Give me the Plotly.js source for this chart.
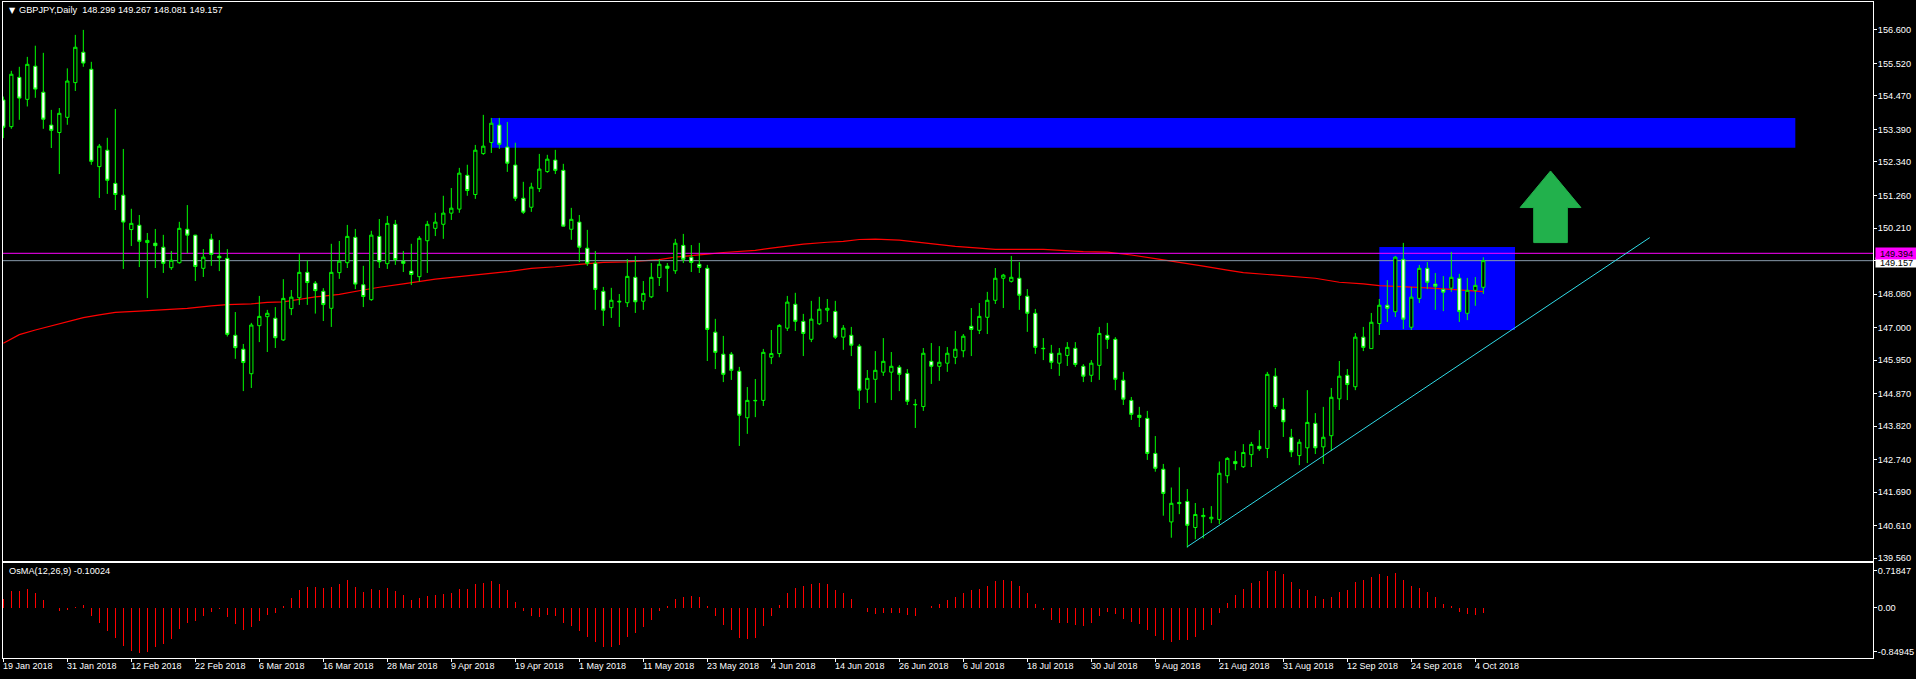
<!DOCTYPE html>
<html><head><meta charset="utf-8">
<script src="https://cdn.plot.ly/plotly-3.0.1.min.js"></script>
<style>html,body{margin:0;padding:0;background:#000;overflow:hidden}</style>
</head><body><div id="chart" style="width:1916px;height:679px"></div>
<script>
const openPrice=[154.34,153.48,155.07,154.36,155.43,154.59,153.53,153.29,153.78,154.90,155.88,155.33,152.19,152.72,151.65,151.27,150.16,150.30,149.74,149.72,
149.59,148.93,149.09,150.17,149.98,148.91,149.85,149.30,149.23,146.75,146.30,145.51,147.06,147.35,147.30,146.60,147.61,147.96,148.78,148.43,
148.17,147.62,148.77,149.09,149.91,148.38,147.90,149.94,149.06,150.33,149.14,148.82,148.64,149.80,150.20,150.33,150.69,150.82,151.91,151.29,
152.61,152.97,153.53,152.82,152.24,151.17,150.88,151.48,152.03,152.40,152.07,150.17,150.40,149.56,149.07,148.17,147.64,147.85,147.80,148.62,
147.85,147.99,148.61,148.98,148.83,149.65,149.27,149.04,148.91,146.85,146.14,146.14,145.59,144.09,144.65,144.65,146.04,146.16,146.98,147.75,
147.20,146.62,147.12,147.56,147.52,146.69,146.75,146.40,145.01,145.33,145.56,145.56,145.72,145.52,144.52,144.45,145.91,145.75,145.85,146.04,
146.25,147.04,146.91,147.33,147.88,148.59,148.49,148.59,148.01,147.46,146.33,146.17,145.85,146.10,146.33,145.75,145.46,145.78,146.75,146.62,
145.30,144.65,144.17,144.07,142.94,142.43,140.73,141.36,141.39,140.55,140.90,140.83,140.81,142.22,142.68,142.51,142.90,143.17,143.10,145.43,
144.36,143.46,142.87,143.12,143.91,143.15,143.51,144.70,145.46,145.09,146.69,146.32,147.13,147.72,147.51,149.20,147.01,147.94,148.91,148.40,
148.23,148.27,148.59,147.46,148.20,148.299];
const highPrice=[154.45,155.28,155.41,155.73,156.09,155.86,154.02,154.08,155.36,156.44,156.60,155.57,152.92,153.12,154.05,152.76,150.83,150.63,150.05,150.18,
149.99,149.47,150.41,150.95,149.99,149.53,150.02,149.82,149.53,147.50,146.47,147.15,148.02,147.57,147.66,148.56,148.21,149.37,149.16,148.50,
148.27,149.70,149.79,150.31,150.18,148.99,150.12,150.50,150.60,150.47,149.47,149.70,149.95,150.44,150.70,151.25,151.50,152.15,152.25,152.89,
153.86,153.76,153.76,153.63,152.96,151.70,151.67,152.60,152.57,152.73,152.28,150.86,150.63,150.15,149.47,148.31,148.28,148.08,149.21,149.31,
148.50,149.08,149.21,149.08,149.86,150.02,149.66,149.73,149.02,147.28,146.73,146.21,145.73,145.08,145.34,146.31,146.92,147.11,148.02,148.12,
147.44,147.86,147.99,147.92,147.86,147.08,147.02,146.47,145.63,146.24,146.66,146.21,145.79,145.66,144.69,146.34,146.50,146.40,146.37,146.89,
146.79,147.63,147.79,148.15,148.92,148.73,149.31,149.11,148.24,147.60,146.66,146.44,146.34,146.53,146.53,145.82,145.95,147.02,147.15,146.69,
145.57,144.76,144.44,144.31,143.50,142.60,141.84,142.49,141.79,141.34,141.18,141.24,142.68,142.82,143.02,143.24,143.31,143.69,145.57,145.69,
144.73,143.73,143.40,144.98,144.24,144.44,145.05,145.92,145.66,146.82,147.02,147.47,147.92,148.53,149.31,149.73,148.31,149.02,149.11,148.76,
148.66,149.44,148.73,148.60,148.63,149.267];
const lowPrice=[153.11,153.41,153.70,154.13,154.41,153.41,152.79,151.95,153.54,154.63,155.41,152.25,151.18,151.31,150.79,148.89,149.63,148.95,147.95,148.92,
148.76,148.86,149.06,149.39,148.50,148.63,148.99,148.82,146.71,145.99,144.95,145.05,146.53,146.21,146.34,146.57,147.40,147.73,147.73,147.45,
147.21,147.02,148.57,148.92,148.24,147.66,147.86,148.92,148.89,149.02,148.79,148.37,148.48,148.76,149.95,149.86,150.47,150.70,151.25,151.15,
152.57,152.63,152.76,152.02,151.08,150.66,150.73,151.37,151.99,151.95,150.27,149.83,149.11,148.99,147.57,147.05,147.31,147.02,147.66,147.47,
147.57,147.95,148.34,148.15,148.73,149.08,148.79,148.76,145.92,145.66,145.24,145.31,143.18,143.57,144.11,144.47,145.82,146.04,146.89,146.89,
146.08,146.53,147.08,147.18,146.63,146.28,146.08,144.37,144.57,144.57,145.44,144.66,144.95,144.50,143.76,144.31,145.18,145.28,145.57,145.82,
146.04,146.08,146.79,146.79,147.76,147.63,148.45,147.57,146.86,146.15,145.95,145.66,145.44,145.76,145.73,145.24,145.24,145.31,146.31,144.98,
144.50,144.02,143.79,142.73,142.35,140.93,140.22,140.98,139.90,140.17,140.20,140.69,140.66,141.98,142.40,142.47,142.50,143.02,142.79,144.37,
143.47,142.82,142.56,142.63,142.92,142.60,143.02,144.34,144.66,144.98,146.24,146.32,146.76,147.18,147.34,146.95,146.92,147.79,148.24,147.57,
147.53,148.15,147.18,147.24,147.70,148.081];
const closePrice=[153.46,155.17,154.40,155.49,154.69,153.72,153.36,153.91,154.95,156.04,155.53,152.36,152.85,151.75,151.29,150.40,150.36,149.78,149.81,149.64,
149.07,149.17,150.20,149.98,148.97,149.27,149.36,149.25,146.78,146.35,145.87,147.08,147.36,147.46,146.67,147.94,147.98,148.78,148.45,148.19,
147.74,148.78,149.14,149.94,148.40,148.00,149.98,149.12,150.36,149.19,149.07,148.71,149.88,150.33,150.40,150.69,150.85,151.98,151.42,152.72,
152.85,153.59,152.91,152.30,151.17,150.72,151.53,152.11,152.43,152.07,150.27,150.49,149.59,149.07,148.23,147.56,147.88,147.83,148.65,147.83,
148.10,148.62,149.04,148.91,149.72,149.20,149.10,148.94,146.94,146.20,145.49,145.62,144.17,144.65,144.64,146.20,146.16,147.07,147.82,147.20,
146.81,147.27,147.59,147.62,146.69,146.98,146.43,144.98,145.36,145.62,145.91,145.75,145.49,144.62,144.51,146.17,145.75,145.88,146.17,146.30,
146.72,146.94,147.36,147.88,148.59,148.69,148.62,148.04,147.46,146.36,146.32,145.88,146.17,146.36,145.81,145.43,145.85,146.81,146.62,145.33,
144.69,144.20,144.10,142.94,142.46,141.65,141.33,141.32,140.62,140.97,140.94,140.88,142.30,142.78,142.61,142.97,143.23,143.09,145.49,144.45,
143.96,142.99,143.30,143.94,143.12,143.46,144.75,145.43,145.16,146.69,146.36,147.17,147.72,147.62,149.27,147.27,147.98,148.91,148.46,148.33,
148.14,148.62,147.52,148.20,148.36,149.157];
const osma=[0.16,0.32,0.32,0.36,0.29,0.14,0,-0.07,-0.05,0.02,0.06,-0.17,-0.30,-0.45,-0.59,-0.74,-0.83,-0.88,-0.86,-0.77,
-0.71,-0.61,-0.41,-0.29,-0.25,-0.17,-0.09,-0.03,-0.19,-0.32,-0.44,-0.38,-0.26,-0.15,-0.11,0.03,0.18,0.34,0.41,0.41,
0.38,0.41,0.45,0.53,0.41,0.30,0.37,0.34,0.39,0.32,0.24,0.14,0.18,0.22,0.24,0.26,0.28,0.37,0.37,0.45,
0.47,0.51,0.45,0.34,0.12,-0.07,-0.17,-0.19,-0.15,-0.17,-0.30,-0.36,-0.46,-0.56,-0.67,-0.77,-0.77,-0.73,-0.57,-0.50,
-0.38,-0.23,-0.07,0.03,0.16,0.20,0.22,0.20,0.03,-0.17,-0.34,-0.44,-0.59,-0.61,-0.58,-0.36,-0.17,0.05,0.28,0.39,
0.43,0.45,0.47,0.45,0.34,0.28,0.16,0,-0.09,-0.13,-0.10,-0.11,-0.11,-0.15,-0.17,-0.01,0.03,0.08,0.14,0.20,
0.28,0.34,0.37,0.43,0.51,0.53,0.51,0.43,0.28,0.08,-0.05,-0.23,-0.30,-0.30,-0.34,-0.36,-0.30,-0.17,-0.09,-0.13,
-0.21,-0.28,-0.32,-0.44,-0.54,-0.63,-0.67,-0.63,-0.63,-0.56,-0.44,-0.34,-0.11,0.10,0.24,0.37,0.47,0.51,0.72,0.72,
0.65,0.49,0.37,0.34,0.22,0.16,0.20,0.30,0.34,0.49,0.53,0.59,0.65,0.61,0.68,0.53,0.43,0.39,0.30,0.20,
0.08,0.03,-0.09,-0.13,-0.15,-0.10];
const maBar=[0,2,4,6,8,10,12,14,17,20,23,26,28,31,33,35,37,39,40,42,45,47,50,52,54,57,60,63,66,69,72,75,78,80,82,84,86,88,90,92,94,96,98,100,103,105,107,109,112,114,116,118,119,122,124,130,132,135,138,141,144,147,150,153,155,158,161,164,167,170,172,175,178,181,183,185];
const maPrice=[146.49,146.77,146.92,147.05,147.19,147.32,147.41,147.49,147.53,147.58,147.62,147.70,147.74,147.76,147.81,147.83,147.92,147.99,148.01,148.07,148.21,148.30,148.41,148.49,148.56,148.64,148.71,148.80,148.91,148.96,149.04,149.10,149.12,149.15,149.19,149.27,149.33,149.37,149.42,149.46,149.49,149.56,149.62,149.69,149.75,149.78,149.84,149.85,149.82,149.76,149.70,149.63,149.62,149.56,149.52,149.52,149.49,149.45,149.43,149.34,149.22,149.11,148.98,148.85,148.77,148.71,148.64,148.59,148.46,148.41,148.35,148.32,148.28,148.23,148.19,148.16];
const tickBar=[0,8,16,24,32,40,48,56,64,72,80,88,96,104,112,120,128,136,144,152,160,168,176,184];
const dateLabels=["19 Jan 2018","31 Jan 2018","12 Feb 2018","22 Feb 2018","6 Mar 2018","16 Mar 2018","28 Mar 2018","9 Apr 2018","19 Apr 2018","1 May 2018","11 May 2018","23 May 2018","4 Jun 2018","14 Jun 2018","26 Jun 2018","6 Jul 2018","18 Jul 2018","30 Jul 2018","9 Aug 2018","21 Aug 2018","31 Aug 2018","12 Sep 2018","24 Sep 2018","4 Oct 2018"];
const priceTicks=[156.600,155.520,154.470,153.390,152.340,151.260,150.210,149.157,148.080,147.000,145.950,144.870,143.820,142.740,141.690,140.610,139.560];
const osmaTicks=[0.71847,0,-0.84945];
const osmaTickText=["0.71847","0.00","-0.84945"];
const resistanceBars=[61.05,224], resistancePrices=[152.80,153.76];
const rangeBars=[172,188.96], rangePrices=[146.92,149.60];
const trendBars=[148,205.8], trendPrices=[139.93,149.90];
const arrowBars=[193.4,197.2,195.5,195.5,191.3,191.3,189.6,193.4];
const arrowPrices=[152.05,150.87,150.87,149.74,149.74,150.87,150.87,152.05];
const bidPrice=149.394, lastPrice=149.157;
const fullBars=[-0.04,233.71];

const bars=openPrice.map((_,i)=>i);
const font="'Liberation Sans',Arial,sans-serif";
const priceRange=[139.47,157.50];
const traces=[
 {type:'scatter',mode:'lines',x:maBar,y:maPrice,xaxis:'x',yaxis:'y',line:{color:'#ff0000',width:1.2},hoverinfo:'skip'},
 {type:'scatter',mode:'lines',x:fullBars,y:[bidPrice,bidPrice],xaxis:'x',yaxis:'y',line:{color:'#ff00ff',width:1},hoverinfo:'skip'},
 {type:'scatter',mode:'lines',x:fullBars,y:[lastPrice,lastPrice],xaxis:'x',yaxis:'y',line:{color:'#8899aa',width:1},hoverinfo:'skip'},
 {type:'candlestick',x:bars,open:openPrice,high:highPrice,low:lowPrice,close:closePrice,xaxis:'x',yaxis:'y3',whiskerwidth:0,
  increasing:{line:{color:'#00ff00',width:1},fillcolor:'#000000'},decreasing:{line:{color:'#00ff00',width:1},fillcolor:'#ffffff'},hoverinfo:'skip'},
 {type:'scatter',mode:'lines',x:trendBars,y:trendPrices,xaxis:'x',yaxis:'y3',line:{color:'#30dce8',width:1},hoverinfo:'skip'},
 {type:'scatter',mode:'lines',x:arrowBars,y:arrowPrices,xaxis:'x',yaxis:'y3',fill:'toself',fillcolor:'#22b14c',line:{color:'#22b14c',width:1},hoverinfo:'skip'},
 {type:'bar',x:bars,y:osma,xaxis:'x2',yaxis:'y2',width:0.14,marker:{color:'#ff0000',line:{width:0}},hoverinfo:'skip'}
];
const tickFont={family:font,size:9.2,color:'#ffffff'};
const dateFont={family:font,size:9,color:'#ffffff'};
const annotations=dateLabels.map((t,i)=>({x:tickBar[i],xref:'x2',y:0,yref:'paper',yshift:-1,xanchor:'left',yanchor:'top',xshift:-2,text:t,showarrow:false,font:dateFont}));
annotations.push(
 {x:0.0095,xref:'paper',y:1,yref:'paper',yanchor:'top',xanchor:'left',yshift:-1,xshift:-4,text:'GBPJPY,Daily&nbsp;&nbsp;148.299 149.267 148.081 149.157',showarrow:false,font:tickFont},
 {x:0.0035,xref:'paper',y:1,yref:'paper',yanchor:'top',xanchor:'left',yshift:-2,xshift:-3,text:'▼',showarrow:false,font:{family:'DejaVu Sans',size:8,color:'#ffffff'}},
 {x:0.002,xref:'paper',y:0.1441,yref:'paper',yanchor:'top',xanchor:'left',yshift:-1,text:'OsMA(12,26,9) -0.10024',showarrow:false,font:tickFont},
 {xref:'paper',x:1.0011,xanchor:'left',yref:'y',y:lastPrice,yanchor:'middle',yshift:-2,text:lastPrice.toFixed(3),showarrow:false,font:{family:font,size:9.2,color:'#000'},bgcolor:'#ffffff',width:41,height:9,borderpad:0},
 {xref:'paper',x:1.0011,xanchor:'left',yref:'y',y:bidPrice,yanchor:'middle',text:bidPrice.toFixed(3),showarrow:false,font:{family:font,size:9.2,color:'#000'},bgcolor:'#ff00ff',width:41,height:11,borderpad:0}
);
const layout={
 width:1916,height:679,paper_bgcolor:'#000',plot_bgcolor:'#000',showlegend:false,dragmode:false,
 margin:{l:3,r:43,t:2,b:21,pad:0},boxgap:0.42,bargap:0,
 xaxis:{domain:[0,1],range:fullBars,anchor:'y',showgrid:false,zeroline:false,showticklabels:false,ticks:'',showline:true,mirror:true,linecolor:'#fff',linewidth:1,rangeslider:{visible:false},fixedrange:true},
 yaxis:{domain:[0.1479,1],range:priceRange,anchor:'x',side:'right',showgrid:false,zeroline:false,showline:true,mirror:true,linecolor:'#fff',linewidth:1,tickmode:'array',tickvals:priceTicks,ticktext:priceTicks.map(v=>v.toFixed(3)),ticks:'outside',ticklen:3,tickcolor:'#fff',tickwidth:1,tickfont:tickFont,ticklabelstandoff:-1,fixedrange:true},
 yaxis3:{overlaying:'y',range:priceRange,side:'right',visible:false,fixedrange:true},
 xaxis2:{domain:[0,1],range:fullBars,anchor:'y2',showgrid:false,zeroline:false,showline:true,mirror:true,linecolor:'#fff',linewidth:1,tickmode:'array',tickvals:tickBar,ticktext:tickBar.map(()=>''),ticks:'outside',ticklen:3,tickcolor:'#fff',tickwidth:1,fixedrange:true},
 yaxis2:{domain:[0,0.1441],range:[-0.975,0.857],anchor:'x2',side:'right',showgrid:false,zeroline:false,showline:true,mirror:true,linecolor:'#fff',linewidth:1,tickmode:'array',tickvals:osmaTicks,ticktext:osmaTickText,ticks:'outside',ticklen:3,tickcolor:'#fff',tickwidth:1,tickfont:tickFont,ticklabelstandoff:-1,fixedrange:true},
 shapes:[
  {type:'rect',layer:'below',xref:'x',yref:'y',x0:resistanceBars[0],x1:resistanceBars[1],y0:resistancePrices[0],y1:resistancePrices[1],fillcolor:'#0000ff',line:{width:0}},
  {type:'rect',layer:'below',xref:'x',yref:'y',x0:rangeBars[0],x1:rangeBars[1],y0:rangePrices[0],y1:rangePrices[1],fillcolor:'#0000ff',line:{width:0}}
 ],
 annotations:annotations
};
Plotly.newPlot('chart',traces,layout,{displayModeBar:false,staticPlot:true});
</script></body></html>
